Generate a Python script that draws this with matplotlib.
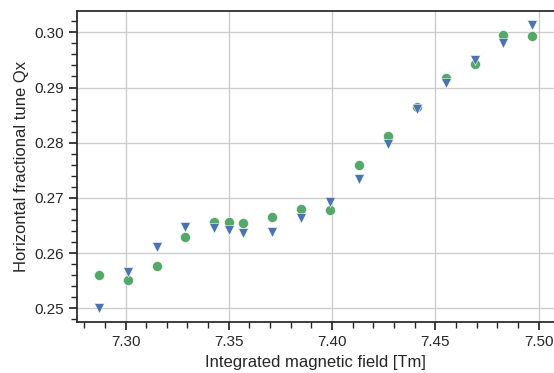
import matplotlib
matplotlib.use("Agg")
import matplotlib.pyplot as plt
import seaborn as sns
from matplotlib.ticker import MultipleLocator

# integrated field values [Tm]
field = [7.287, 7.301, 7.315, 7.329, 7.343, 7.350, 7.357, 7.371, 7.385,
         7.399, 7.413, 7.427, 7.441, 7.455, 7.469, 7.483, 7.497]

# measured tune (green circles)
qx_circle = [0.2560, 0.2551, 0.2577, 0.2630, 0.2657, 0.2656, 0.2655, 0.2665, 0.2680,
             0.2679, 0.2759, 0.2812, 0.2865, 0.2917, 0.2942, 0.2995, 0.2994]

# second set (blue triangles)
qx_triangle = [0.2501, 0.2566, 0.2612, 0.2648, 0.2646, 0.2642, 0.2637, 0.2638, 0.2663,
               0.2692, 0.2735, 0.2797, 0.2861, 0.2909, 0.2949, 0.2981, 0.3013]

sns.set_theme(style="ticks", context="notebook")
plt.rcParams['font.family'] = ['Liberation Sans', 'DejaVu Sans']

fig = plt.figure(figsize=(5.54, 3.73), dpi=100)
ax = fig.add_axes([77 / 554, 51 / 373, (554 - 77) / 554, 311 / 373])

ax.scatter(field, qx_circle, s=52, marker='o', color='#55A868',
           edgecolors='white', linewidths=0.4, zorder=3)
ax.scatter(field, qx_triangle, s=52, marker='v', color='#4C72B0',
           edgecolors='white', linewidths=0.4, zorder=4)

ax.xaxis.set_major_locator(MultipleLocator(0.05))
ax.xaxis.set_minor_locator(MultipleLocator(0.01))
ax.yaxis.set_major_locator(MultipleLocator(0.01))
ax.yaxis.set_minor_locator(MultipleLocator(0.002))
ax.xaxis.set_major_formatter(matplotlib.ticker.FormatStrFormatter('%.2f'))
ax.yaxis.set_major_formatter(matplotlib.ticker.FormatStrFormatter('%.2f'))

ax.grid(True, which='major', color='#cccccc', linewidth=1)
ax.set_axisbelow(True)
# figure is clipped on the right in the original, no right spine visible
ax.spines['right'].set_visible(False)

ax.set_xlabel('Integrated magnetic field [Tm]')
ax.set_ylabel('Horizontal fractional tune Qx')

fig.savefig('out.png', dpi=100)
